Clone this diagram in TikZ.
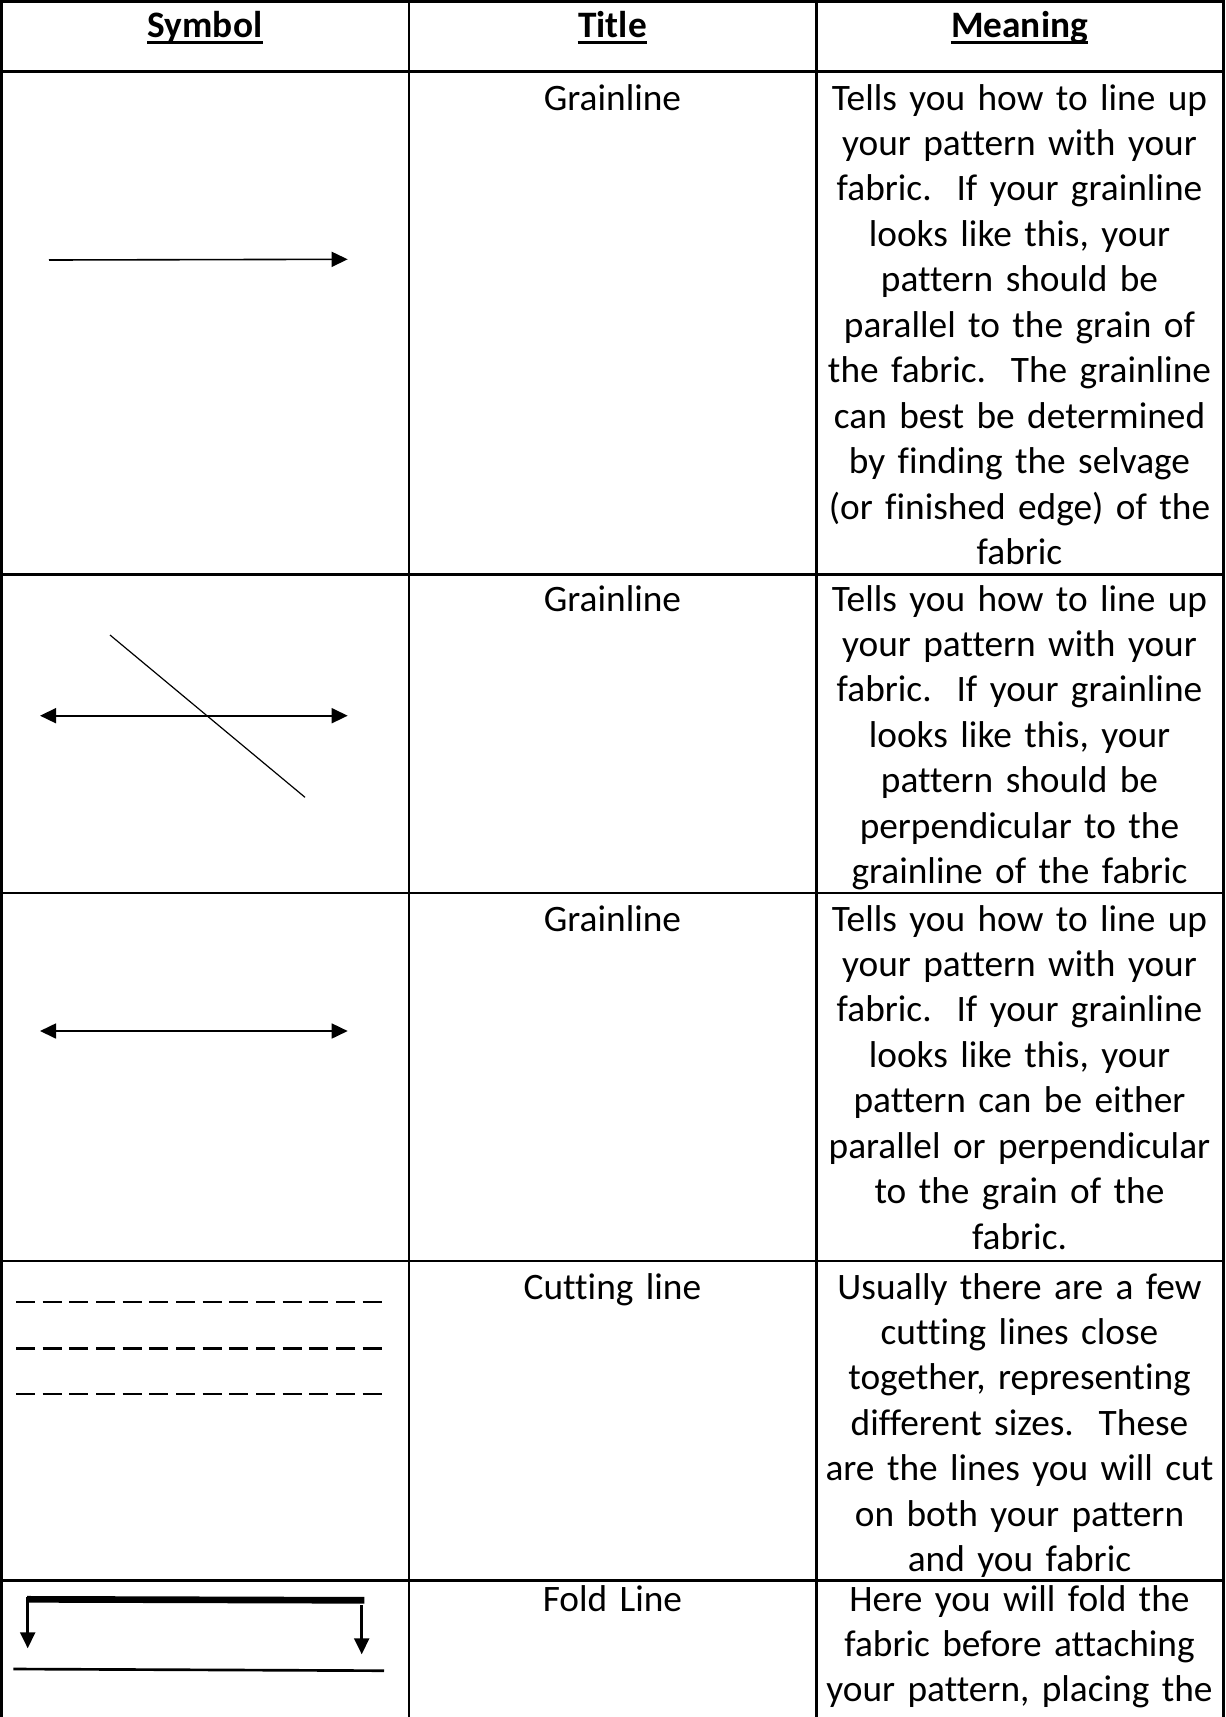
\documentclass[tikz,border=0pt]{standalone}
\usepackage{fontspec}
\setmainfont{Carlito}[Ligatures={NoCommon}]
\usetikzlibrary{arrows.meta}

\begin{document}
\begin{tikzpicture}[x=0.375pt, y=-0.375pt,
    cell/.style={anchor=base, align=center, text width=150pt, inner sep=0pt, font=\fontsize{14}{17.05}\selectfont},
    head/.style={anchor=base, inner sep=0pt, font=\fontsize{14}{17}\selectfont\bfseries},
    tip/.style={-{Triangle[length=6pt, width=5.6pt]}},
    tips/.style={{Triangle[length=6pt, width=5.6pt]}-{Triangle[length=6pt, width=5.6pt]}}]
\useasboundingbox (0,0) rectangle (1225,1717);

% table lines
\foreach \y in {1.3, 71.5, 574.7, 893, 1261, 1580.7}
{
    \draw[line width=1pt] (0,\y) -- (1225,\y);
}
\foreach \x in {1.3, 409, 816.5, 1223.8}
{
    \draw[line width=1pt] (\x,0) -- (\x,1717);
}

% header
\node[head] (hsym) at (205,37) {Symbol};
\node[head] (htitle) at (612.5,37) {Title};
\node[head] (hmean) at (1019.5,37) {Meaning};
\foreach \n in {hsym, htitle, hmean}
{
    \draw[line width=1pt] ([yshift=-2.1pt]\n.base west) -- ([yshift=-2.1pt]\n.base east);
}

% titles
\node[cell] (t1) at (612.5,110) {Grainline};
\node[cell] (t2) at (612.5,611) {Grainline};
\node[cell] (t3) at (612.5,931) {Grainline};
\node[cell] (t4) at (612.5,1299) {Cutting line};
\node[cell] (t5) at (612.5,1611) {Fold Line};

% meanings
\node[cell] (m1) at (1019.5,110) {Tells you how to line up\\your pattern with your\\fabric.\ \ If your grainline\\looks like this, your\\pattern should be\\parallel to the grain of\\the fabric.\ \ The grainline\\can best be determined\\by finding the selvage\\(or finished edge) of the\\fabric};
\node[cell] (m2) at (1019.5,611) {Tells you how to line up\\your pattern with your\\fabric.\ \ If your grainline\\looks like this, your\\pattern should be\\perpendicular to the\\grainline of the fabric};
\node[cell] (m3) at (1019.5,931) {Tells you how to line up\\your pattern with your\\fabric.\ \ If your grainline\\looks like this, your\\pattern can be either\\parallel or perpendicular\\to the grain of the\\fabric.};
\node[cell] (m4) at (1019.5,1299) {Usually there are a few\\cutting lines close\\together, representing\\different sizes.\ \ These\\are the lines you will cut\\on both your pattern\\and you fabric};
\node[cell] (m5) at (1019.5,1611) {Here you will fold the\\fabric before attaching\\your pattern, placing the};

% symbols
\draw[line width=0.6pt, tip] (49,260) -- (347.7,259.3);

\draw[line width=0.7pt, tips] (40,715.7) -- (347.7,715.7);
\draw[line width=0.45pt] (110,635) -- (305,797.3);

\draw[line width=0.7pt, tips] (40,1031) -- (347.7,1031);

\foreach \y in {1302, 1348.3, 1394}
{
    \draw[line width=1pt, dash pattern=on 7.1pt off 2.9pt] (16,\y) -- (386,\y);
}

\draw[line width=2.5pt] (27,1599.3) -- (364.3,1600.3);
\draw[line width=1pt, tip] (27.7,1597) -- (27.7,1648.3);
\draw[line width=1pt, tip] (361.7,1605) -- (361.7,1654.3);
\draw[line width=1pt] (13.3,1669) -- (384,1670.7);
\end{tikzpicture}
\end{document}
